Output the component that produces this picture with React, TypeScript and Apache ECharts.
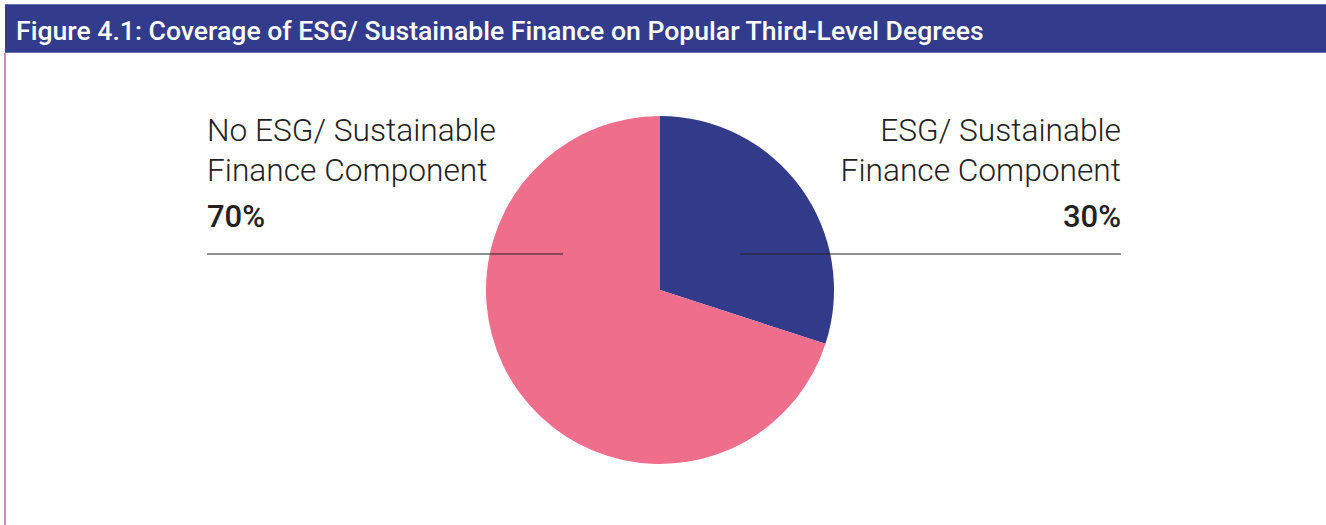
import React, { useEffect, useRef } from "react";
import * as echarts from "echarts";

const titleText = "Figure 4.1: Coverage of ESG/ Sustainable Finance on Popular Third-Level Degrees";
const categories = ["ESG/ Sustainable\nFinance Component", "No ESG/ Sustainable\nFinance Component"];
const values = [30, 70];
const colors = ["#323B8A", "#EE6E8C"];

export default function App() {
  const ref = useRef<HTMLDivElement>(null);
  useEffect(() => {
    document.body.style.margin = "0";
    const chart = echarts.init(ref.current!, null, { renderer: "svg" });
    const W = 1326;
    const cx = 660;
    const cy = 290;
    const lineY = 254;
    const data = categories.map((c, i) => ({ name: c, value: values[i], itemStyle: { color: colors[i] } }));
    const labelData = categories.map((c, i) => ({ name: c, value: values[i] }));
    chart.setOption({
      animation: false,
      backgroundColor: "#ffffff",
      graphic: [
        { type: "rect", shape: { x: 5, y: 4, width: W - 5, height: 49 }, style: { fill: "#333B8C" }, z: 1 },
        { type: "line", shape: { x1: 5, y1: 4.5, x2: W, y2: 4.5 }, style: { stroke: "#6A70AE", lineWidth: 1 }, z: 2 },
        { type: "line", shape: { x1: 5, y1: 52.5, x2: W, y2: 52.5 }, style: { stroke: "#6A70AE", lineWidth: 1 }, z: 2 },
        { type: "line", shape: { x1: 5, y1: 53, x2: 5, y2: 525 }, style: { stroke: "#D65BAA", lineWidth: 1.5 }, z: 2 },
        {
          type: "text",
          x: 16,
          y: 30,
          z: 3,
          style: {
            text: titleText,
            fill: "#ffffff",
            font: "500 26.6px Roboto",
            verticalAlign: "middle",
            align: "left",
          },
        },
      ],
      series: [
        {
          type: "pie",
          z: 2,
          center: [cx, cy],
          radius: [0, 174],
          startAngle: 90,
          clockwise: true,
          silent: true,
          emphasis: { disabled: true },
          data,
          label: { show: false },
          labelLine: { show: false },
        },
        {
          type: "pie",
          z: 5,
          center: [cx, cy],
          radius: [0, 174],
          startAngle: 90,
          clockwise: true,
          silent: true,
          emphasis: { disabled: true },
          itemStyle: { color: "rgba(0,0,0,0)" },
          data: labelData,
          label: {
            show: true,
            position: "outside",
            formatter: (p: any) =>
              p.name.split("\n").map((s: string) => `{n|${s}}`).join("\n") + `\n{p|${p.value}%}`,
            rich: {
              n: { fontFamily: "Roboto", fontWeight: 300, fontSize: 31.7, lineHeight: 40, color: "#222222" },
              p: { fontFamily: "Roboto", fontWeight: 500, fontSize: 31, lineHeight: 52, color: "#222222" },
            },
          },
          labelLine: { show: true, lineStyle: { color: "#222222", width: 1 } },
          labelLayout: (params: any) => {
            if (params.dataIndex === 0) {
              return {
                x: 1121,
                y: 110,
                align: "right",
                verticalAlign: "top",
                labelLinePoints: [
                  [740, lineY],
                  [1121, lineY],
                  [1121, lineY],
                ],
              };
            }
            return {
              x: 207,
              y: 110,
              align: "left",
              verticalAlign: "top",
              labelLinePoints: [
                [563, lineY],
                [207, lineY],
                [207, lineY],
              ],
            };
          },
        },
      ],
    });
    return () => chart.dispose();
  }, []);
  return <div ref={ref} style={{ position: "fixed", left: 0, top: 0, width: 1326, height: 525 }} />;
}
